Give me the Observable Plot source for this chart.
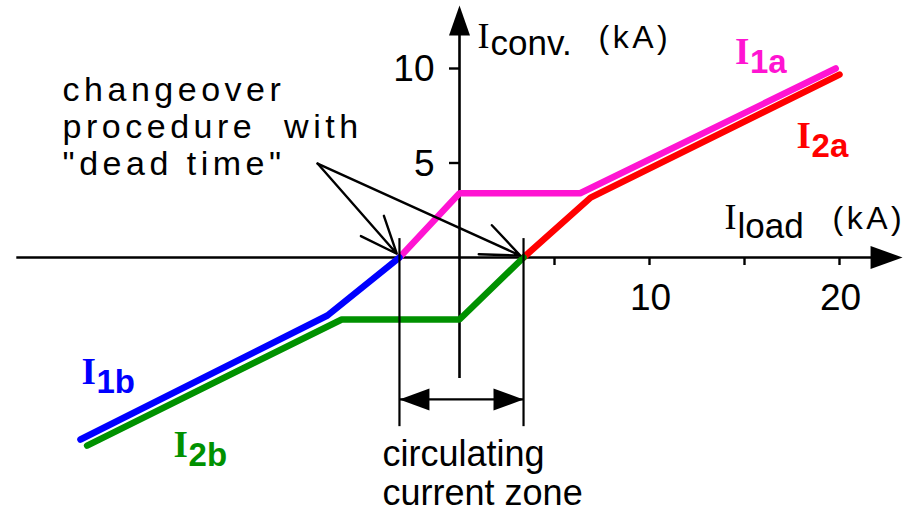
<!DOCTYPE html>
<html><head><meta charset="utf-8">
<script src="https://cdn.jsdelivr.net/npm/d3@7"></script>
<script src="https://cdn.jsdelivr.net/npm/@observablehq/plot@0.6"></script>
<style>body{margin:0;background:#fff} #chart svg{display:block}</style>
</head><body><div id="chart"></div>
<script>
// ---- data (kA) ----
const I1a_x = [-3.16, 0, 6.35, 19.8];
const I1a_y = [0, 3.4, 3.4, 10.0];
const I2a_x = [3.37, 6.9, 20.0];
const I2a_y = [0, 3.17, 9.68];
const I1b_x = [-3.16, -6.95, -19.95];
const I1b_y = [0, -3.07, -9.63];
const I2b_x = [3.37, 0, -6.2, -19.6];
const I2b_y = [0, -3.28, -3.28, -9.95];
const seriesNames = ["I1a", "I2a", "I1b", "I2b"];
const seriesColors = ["#ff14d2", "#ff0000", "#0000ff", "#009100"];
const xTicks = [5, 10, 15, 20];
const xTickLabels = [10, 20];
const yTicks = [5, 10];
const yTickLabels = [5, 10];
const zoneBounds = [-3.16, 3.37];

// ---- scales: pixels per kA ----
const kx = 19, ky = 18.9, W = 918, H = 514;
const ox = 459, oy = 257;

function pts(xs, ys) { return xs.map((x, i) => ({x, y: ys[i]})); }
const series = [pts(I1a_x, I1a_y), pts(I2a_x, I2a_y), pts(I1b_x, I1b_y), pts(I2b_x, I2b_y)];

function arrowSym(dir, L, w) {
  return {draw(ctx) {
    ctx.moveTo(0, 0);
    if (dir === "up") { ctx.lineTo(-w, L); ctx.lineTo(w, L); }
    else if (dir === "right") { ctx.lineTo(-L, -w); ctx.lineTo(-L, w); }
    else { ctx.lineTo(L, -w); ctx.lineTo(L, w); }
    ctx.closePath();
  }};
}

const SANS = "Liberation Sans, Arial, sans-serif";
const SERIF = "Liberation Serif, Times New Roman, serif";

// label positions (kA)
const labelI = [
  {name: "1a", x: 14.5, y: 10.26, c: seriesColors[0]},
  {name: "2a", x: 17.74, y: 5.77, c: seriesColors[1]},
  {name: "1b", x: -19.9, y: -6.67, c: seriesColors[2]},
  {name: "2b", x: -15.05, y: -10.58, c: seriesColors[3]}
];

const marks = [];
// axes
marks.push(Plot.ruleY([0], {x1: () => -23.3, x2: () => 22, stroke: "black", strokeWidth: 2.6}));
marks.push(Plot.ruleX([0], {y1: () => -6.4, y2: () => 12, stroke: "black", strokeWidth: 2.6}));
marks.push(Plot.dot([{x: 23.32, y: 0}], {x: "x", y: "y", symbol: arrowSym("right", 32, 11.5), fill: "black", stroke: "none"}));
marks.push(Plot.dot([{x: 0, y: 13.33}], {x: "x", y: "y", symbol: arrowSym("up", 30, 10.5), fill: "black", stroke: "none"}));
// ticks
marks.push(Plot.ruleX(xTicks, {x: d => d, y1: () => 0, y2: () => -8 / ky, stroke: "black", strokeWidth: 2.4}));
marks.push(Plot.ruleY(yTicks, {y: d => d, x1: () => -10 / kx, x2: () => 0, stroke: "black", strokeWidth: 2.4}));
marks.push(Plot.text(xTickLabels, {x: d => d, y: () => 0, text: d => String(d), dy: 26, dx: 1, lineAnchor: "top", textAnchor: "middle", fontSize: 37, fontFamily: SANS, fill: "black"}));
marks.push(Plot.text(yTickLabels, {x: () => 0, y: d => d, text: d => String(d), dx: -25, dy: 1, lineAnchor: "middle", textAnchor: "end", fontSize: 37, fontFamily: SANS, fill: "black"}));

// series
series.forEach((s, i) => {
  marks.push(Plot.line(s, {x: "x", y: "y", stroke: seriesColors[i], strokeWidth: 6.5, strokeLinecap: "round", strokeLinejoin: "miter"}));
});

// zone markers
marks.push(Plot.ruleX(zoneBounds, {x: d => d, y1: () => 1.0, y2: () => -8.95, stroke: "black", strokeWidth: 2.2}));
marks.push(Plot.link([{a: zoneBounds[0], b: zoneBounds[1]}], {x1: "a", x2: "b", y1: () => -7.51, y2: () => -7.51, stroke: "black", strokeWidth: 2.2}));
marks.push(Plot.dot([{x: zoneBounds[0], y: -7.51}], {x: "x", y: "y", symbol: arrowSym("left", 30, 11), fill: "black", stroke: "none"}));
marks.push(Plot.dot([{x: zoneBounds[1], y: -7.51}], {x: "x", y: "y", symbol: arrowSym("right", 30, 11), fill: "black", stroke: "none"}));

// annotation arrows
marks.push(Plot.arrow([
  {x1: -7.47, y1: 4.97, x2: -3.3, y2: 0.2},
  {x1: -7.47, y1: 4.97, x2: 3.2, y2: 0.1}
], {x1: "x1", y1: "y1", x2: "x2", y2: "y2", stroke: "black", strokeWidth: 2.4, headLength: 26, headAngle: 45, bend: 0}));

// axis titles
marks.push(Plot.text([{x: 0.95, y: 11.11}], {x: "x", y: "y", text: () => "I", lineAnchor: "bottom", textAnchor: "start", fontSize: 36, fontFamily: SERIF, fill: "black"}));
marks.push(Plot.text([{x: 0.95, y: 11.11}], {x: "x", y: "y", text: () => "conv.", dx: 13, dy: 7, lineAnchor: "bottom", textAnchor: "start", fontSize: 35, fontFamily: SANS, fill: "black"}));
marks.push(Plot.text([{x: 7.32, y: 11.11}], {x: "x", y: "y", text: () => "(kA)", lineAnchor: "bottom", textAnchor: "start", fontSize: 32, fontFamily: SANS, fill: "black"}));
marks.push(Plot.text([{x: 13.95, y: 1.53}], {x: "x", y: "y", text: () => "I", lineAnchor: "bottom", textAnchor: "start", fontSize: 36, fontFamily: SERIF, fill: "black"}));
marks.push(Plot.text([{x: 13.95, y: 1.53}], {x: "x", y: "y", text: () => "load", dx: 13, dy: 9, lineAnchor: "bottom", textAnchor: "start", fontSize: 35, fontFamily: SANS, fill: "black"}));
marks.push(Plot.text([{x: 19.63, y: 1.53}], {x: "x", y: "y", text: () => "(kA)", lineAnchor: "bottom", textAnchor: "start", fontSize: 32, fontFamily: SANS, fill: "black"}));

// series labels
labelI.forEach(l => {
  marks.push(Plot.text([l], {x: "x", y: "y", text: () => "I", lineAnchor: "bottom", textAnchor: "start", fontSize: 37, fontWeight: "bold", fontFamily: SERIF, fill: l.c}));
  marks.push(Plot.text([l], {x: "x", y: "y", text: () => l.name, dx: 15, dy: 9, lineAnchor: "bottom", textAnchor: "start", fontSize: 33, fontWeight: "bold", fontFamily: SANS, fill: l.c}));
});

// annotation texts
marks.push(Plot.text([{x: -20.89, y: 4.34}], {x: "x", y: "y", text: () => "changeover\nprocedure  with\n\"dead time\"", lineAnchor: "bottom", lineHeight: 1.1, textAnchor: "start", fontSize: 34, fontFamily: SANS, fill: "black"}));
marks.push(Plot.text([{x: -4.05, y: -13.12}], {x: "x", y: "y", text: () => "circulating\ncurrent zone", lineAnchor: "bottom", lineHeight: 1.11, textAnchor: "start", fontSize: 36, fontFamily: SANS, fill: "black"}));

const chart = Plot.plot({
  width: W, height: H, margin: 0,
  x: {domain: [-ox / kx, (W - ox) / kx], axis: null},
  y: {domain: [-(H - oy) / ky, oy / ky], axis: null},
  style: {background: "white"},
  marks
});
document.getElementById("chart").appendChild(chart);
d3.select(chart).selectAll("text").each(function() {
  const t = this.textContent;
  if (t.startsWith("changeover")) {
    d3.select(this).attr("letter-spacing", "4.5px").style("white-space", "pre");
  } else if (t === "(kA)") {
    d3.select(this).attr("letter-spacing", "3.5px");
  }
});
</script>
</body></html>
